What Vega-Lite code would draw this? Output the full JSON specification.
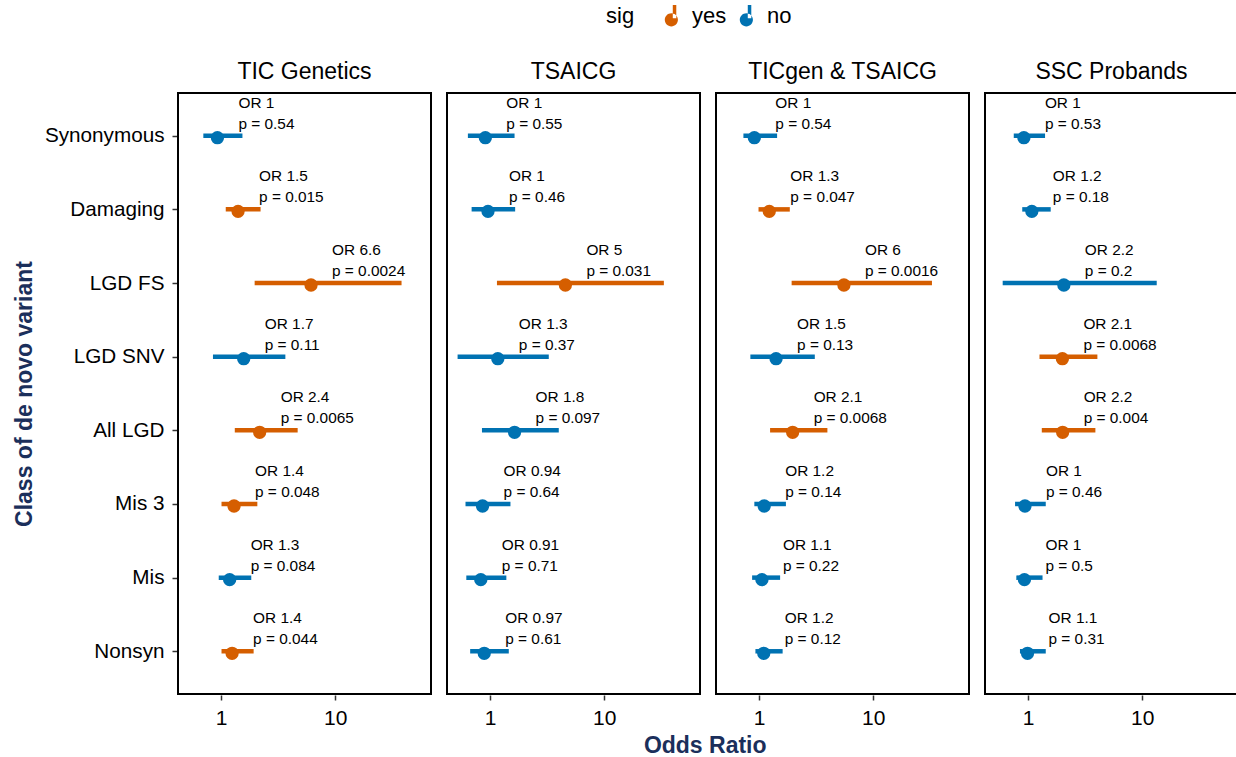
{
  "$schema": "https://vega.github.io/schema/vega-lite/v6.json",
  "padding": {"left": 13, "top": 5, "right": 0, "bottom": 4},
  "title": {"text": "Odds Ratio", "orient": "bottom", "anchor": "middle", "fontSize": 23, "fontWeight": "bold", "color": "#1b2f5b", "offset": 7, "dx": 79},
  "data": {"values": [
    {"panel": "TIC Genetics", "cls": "Synonymous", "or": 0.93, "lo": 0.70, "hi": 1.54, "sig": "no", "orl": "OR 1", "pl": "p = 0.54"},
    {"panel": "TIC Genetics", "cls": "Damaging", "or": 1.41, "lo": 1.10, "hi": 2.22, "sig": "yes", "orl": "OR 1.5", "pl": "p = 0.015"},
    {"panel": "TIC Genetics", "cls": "LGD FS", "or": 6.14, "lo": 1.97, "hi": 38.1, "sig": "yes", "orl": "OR 6.6", "pl": "p = 0.0024"},
    {"panel": "TIC Genetics", "cls": "LGD SNV", "or": 1.58, "lo": 0.85, "hi": 3.66, "sig": "no", "orl": "OR 1.7", "pl": "p = 0.11"},
    {"panel": "TIC Genetics", "cls": "All LGD", "or": 2.18, "lo": 1.32, "hi": 4.69, "sig": "yes", "orl": "OR 2.4", "pl": "p = 0.0065"},
    {"panel": "TIC Genetics", "cls": "Mis 3", "or": 1.30, "lo": 1.01, "hi": 2.08, "sig": "yes", "orl": "OR 1.4", "pl": "p = 0.048"},
    {"panel": "TIC Genetics", "cls": "Mis", "or": 1.19, "lo": 0.955, "hi": 1.84, "sig": "no", "orl": "OR 1.3", "pl": "p = 0.084"},
    {"panel": "TIC Genetics", "cls": "Nonsyn", "or": 1.25, "lo": 1.01, "hi": 1.93, "sig": "yes", "orl": "OR 1.4", "pl": "p = 0.044"},
    {"panel": "TSAICG", "cls": "Synonymous", "or": 0.91, "lo": 0.64, "hi": 1.64, "sig": "no", "orl": "OR 1", "pl": "p = 0.55"},
    {"panel": "TSAICG", "cls": "Damaging", "or": 0.96, "lo": 0.69, "hi": 1.66, "sig": "no", "orl": "OR 1", "pl": "p = 0.46"},
    {"panel": "TSAICG", "cls": "LGD FS", "or": 4.57, "lo": 1.15, "hi": 33.3, "sig": "yes", "orl": "OR 5", "pl": "p = 0.031"},
    {"panel": "TSAICG", "cls": "LGD SNV", "or": 1.17, "lo": 0.52, "hi": 3.27, "sig": "no", "orl": "OR 1.3", "pl": "p = 0.37"},
    {"panel": "TSAICG", "cls": "All LGD", "or": 1.64, "lo": 0.85, "hi": 4.0, "sig": "no", "orl": "OR 1.8", "pl": "p = 0.097"},
    {"panel": "TSAICG", "cls": "Mis 3", "or": 0.86, "lo": 0.61, "hi": 1.51, "sig": "no", "orl": "OR 0.94", "pl": "p = 0.64"},
    {"panel": "TSAICG", "cls": "Mis", "or": 0.83, "lo": 0.62, "hi": 1.39, "sig": "no", "orl": "OR 0.91", "pl": "p = 0.71"},
    {"panel": "TSAICG", "cls": "Nonsyn", "or": 0.89, "lo": 0.67, "hi": 1.46, "sig": "no", "orl": "OR 0.97", "pl": "p = 0.61"},
    {"panel": "TICgen & TSAICG", "cls": "Synonymous", "or": 0.91, "lo": 0.73, "hi": 1.44, "sig": "no", "orl": "OR 1", "pl": "p = 0.54"},
    {"panel": "TICgen & TSAICG", "cls": "Damaging", "or": 1.23, "lo": 0.99, "hi": 1.86, "sig": "yes", "orl": "OR 1.3", "pl": "p = 0.047"},
    {"panel": "TICgen & TSAICG", "cls": "LGD FS", "or": 5.54, "lo": 1.93, "hi": 32.7, "sig": "yes", "orl": "OR 6", "pl": "p = 0.0016"},
    {"panel": "TICgen & TSAICG", "cls": "LGD SNV", "or": 1.41, "lo": 0.84, "hi": 3.08, "sig": "no", "orl": "OR 1.5", "pl": "p = 0.13"},
    {"panel": "TICgen & TSAICG", "cls": "All LGD", "or": 1.97, "lo": 1.25, "hi": 3.97, "sig": "yes", "orl": "OR 2.1", "pl": "p = 0.0068"},
    {"panel": "TICgen & TSAICG", "cls": "Mis 3", "or": 1.11, "lo": 0.91, "hi": 1.72, "sig": "no", "orl": "OR 1.2", "pl": "p = 0.14"},
    {"panel": "TICgen & TSAICG", "cls": "Mis", "or": 1.06, "lo": 0.87, "hi": 1.53, "sig": "no", "orl": "OR 1.1", "pl": "p = 0.22"},
    {"panel": "TICgen & TSAICG", "cls": "Nonsyn", "or": 1.10, "lo": 0.93, "hi": 1.61, "sig": "no", "orl": "OR 1.2", "pl": "p = 0.12"},
    {"panel": "SSC Probands", "cls": "Synonymous", "or": 0.92, "lo": 0.75, "hi": 1.41, "sig": "no", "orl": "OR 1", "pl": "p = 0.53"},
    {"panel": "SSC Probands", "cls": "Damaging", "or": 1.08, "lo": 0.89, "hi": 1.58, "sig": "no", "orl": "OR 1.2", "pl": "p = 0.18"},
    {"panel": "SSC Probands", "cls": "LGD FS", "or": 2.06, "lo": 0.60, "hi": 13.4, "sig": "no", "orl": "OR 2.2", "pl": "p = 0.2"},
    {"panel": "SSC Probands", "cls": "LGD SNV", "or": 2.0, "lo": 1.26, "hi": 4.05, "sig": "yes", "orl": "OR 2.1", "pl": "p = 0.0068"},
    {"panel": "SSC Probands", "cls": "All LGD", "or": 2.01, "lo": 1.32, "hi": 3.89, "sig": "yes", "orl": "OR 2.2", "pl": "p = 0.004"},
    {"panel": "SSC Probands", "cls": "Mis 3", "or": 0.94, "lo": 0.77, "hi": 1.43, "sig": "no", "orl": "OR 1", "pl": "p = 0.46"},
    {"panel": "SSC Probands", "cls": "Mis", "or": 0.93, "lo": 0.79, "hi": 1.34, "sig": "no", "orl": "OR 1", "pl": "p = 0.5"},
    {"panel": "SSC Probands", "cls": "Nonsyn", "or": 0.99, "lo": 0.85, "hi": 1.43, "sig": "no", "orl": "OR 1.1", "pl": "p = 0.31"}
  ]},
  "facet": {
    "column": {
      "field": "panel", "type": "nominal",
      "sort": ["TIC Genetics", "TSAICG", "TICgen & TSAICG", "SSC Probands"],
      "header": {"title": null, "labelFontSize": 23, "labelColor": "black", "labelPadding": 8}
    }
  },
  "spacing": 14,
  "spec": {
    "width": 253,
    "height": 601,
    "encoding": {
      "y": {
        "field": "cls", "type": "nominal",
        "sort": ["Synonymous", "Damaging", "LGD FS", "LGD SNV", "All LGD", "Mis 3", "Mis", "Nonsyn"],
        "scale": {"type": "point", "padding": 0.58},
        "axis": {"title": "Class of de novo variant", "titleFontSize": 23, "titleFontWeight": "bold", "titleColor": "#1b2f5b", "labelFontSize": 20.7, "labelColor": "black", "tickColor": "#333333", "tickSize": 5, "tickWidth": 1.5, "domain": false, "grid": false, "labelPadding": 8, "titlePadding": 8}
      },
      "color": {
        "field": "sig", "type": "nominal",
        "scale": {"domain": ["yes", "no"], "range": ["#D55E00", "#0072B2"]},
        "legend": {"title": "sig", "orient": "none", "legendX": 428, "legendY": -88, "direction": "horizontal", "titleOrient": "left", "titleFontSize": 22, "titleFontWeight": "normal", "titleColor": "black", "labelFontSize": 22, "labelColor": "black", "symbolType": "M-0.02,-1H0.3V0.2H-0.02ZM-0.75,0.35A0.6,0.6 0 1,0 0.45,0.35A0.6,0.6 0 1,0 -0.75,0.35Z", "symbolSize": 480, "symbolStrokeWidth": 0, "symbolOpacity": 1, "columnPadding": 10, "titlePadding": 27, "labelOffset": 8}
      }
    },
    "layer": [
      {
        "mark": {"type": "rule", "strokeWidth": 4.5},
        "encoding": {
          "x": {"field": "lo", "type": "quantitative", "scale": {"type": "log", "domain": [0.42, 69], "nice": false, "zero": false}, "axis": {"title": null, "values": [1, 10], "format": "d", "labelFontSize": 21, "labelColor": "black", "tickColor": "#333333", "tickSize": 5, "tickWidth": 1.5, "domain": false, "grid": false, "labelPadding": 7}},
          "x2": {"field": "hi"}
        }
      },
      {
        "mark": {"type": "point", "filled": true, "size": 177, "opacity": 1, "yOffset": 2},
        "encoding": {"x": {"field": "or", "type": "quantitative"}}
      },
      {
        "mark": {"type": "text", "align": "left", "baseline": "middle", "dx": 21, "dy": -33, "fontSize": 15.4, "color": "black"},
        "encoding": {"x": {"field": "or", "type": "quantitative"}, "text": {"field": "orl"}, "color": {"value": "black"}}
      },
      {
        "mark": {"type": "text", "align": "left", "baseline": "middle", "dx": 21, "dy": -12, "fontSize": 15.4, "color": "black"},
        "encoding": {"x": {"field": "or", "type": "quantitative"}, "text": {"field": "pl"}, "color": {"value": "black"}}
      }
    ]
  },
  "config": {
    "font": "Liberation Sans",
    "view": {"stroke": "black", "strokeWidth": 2}
  }
}
